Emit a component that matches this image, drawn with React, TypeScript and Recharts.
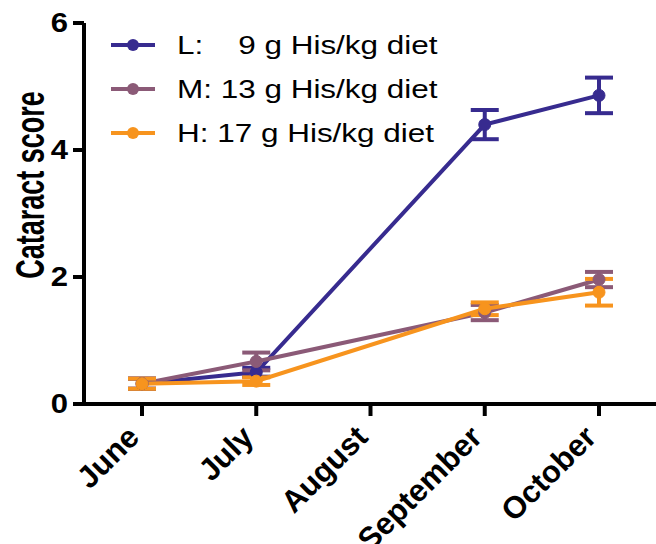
import { LineChart, Line, XAxis, YAxis, ErrorBar, Legend } from 'recharts'

// sampling months; August was not sampled
const months = ['June', 'July', 'August', 'September', 'October']

const lowMean = [0.32, 0.5, null, 4.4, 4.86]
const lowSem = [0.08, 0.07, null, 0.23, 0.28]
const midMean = [0.32, 0.67, null, 1.44, 1.96]
const midSem = [0.08, 0.14, null, 0.12, 0.12]
const highMean = [0.32, 0.36, null, 1.5, 1.76]
const highSem = [0.08, 0.06, null, 0.1, 0.21]

const yTicks = [0, 2, 4, 6]

const groups = [
  { key: 'low', label: 'L:    9 g His/kg diet', color: '#372b8f' },
  { key: 'mid', label: 'M: 13 g His/kg diet', color: '#8b5a77' },
  { key: 'high', label: 'H: 17 g His/kg diet', color: '#f7941e' },
]

const data = months.map((month, i) => ({
  month,
  low: lowMean[i],
  lowErr: lowSem[i],
  mid: midMean[i],
  midErr: midSem[i],
  high: highMean[i],
  highErr: highSem[i],
}))

const FONT = '"Liberation Sans", Arial, sans-serif'

function MonthTick({ x, y, payload }: any) {
  return (
    <g transform={`translate(${x - 1},${y + 21})`}>
      <text
        textAnchor="end"
        transform="rotate(-45)"
        fontFamily={FONT}
        fontWeight="bold"
        fontSize={31}
        fill="#000"
      >
        {payload.value}
      </text>
    </g>
  )
}

function ScoreTick({ x, y, payload }: any) {
  return (
    <g transform={`translate(${x - 3},${y + 9}) scale(1.15,1)`}>
      <text textAnchor="end" fontFamily={FONT} fontWeight="bold" fontSize={27} fill="#000">
        {payload.value}
      </text>
    </g>
  )
}

function ScoreTitle() {
  return (
    <g transform="translate(44,185) scale(1.5,1) rotate(-90)">
      <text textAnchor="middle" fontFamily={FONT} fontWeight="bold" fontSize={27} fill="#000">
        Cataract score
      </text>
    </g>
  )
}

function DietLegend() {
  return (
    <div style={{ fontFamily: FONT, fontSize: 26, color: '#000' }}>
      {groups.map((g) => (
        <div key={g.key} style={{ display: 'flex', alignItems: 'center', height: 44 }}>
          <svg width={44} height={16} style={{ flex: 'none' }}>
            <line x1={0} y1={8} x2={44} y2={8} stroke={g.color} strokeWidth={4} />
            <circle cx={22} cy={8} r={6} fill={g.color} />
          </svg>
          <span
            style={{
              marginLeft: 22,
              whiteSpace: 'pre',
              display: 'inline-block',
              transform: 'scaleX(1.21)',
              transformOrigin: 'left center',
            }}
          >
            {g.label}
          </span>
        </div>
      ))}
    </div>
  )
}

export default function App() {
  return (
    <div style={{ position: 'absolute', left: 0, top: 0, background: '#fff' }}>
      <LineChart width={656} height={544} data={data} margin={{ top: 23, right: 0, bottom: 0, left: 0 }}>
        <XAxis
          dataKey="month"
          height={140}
          padding={{ left: 58, right: 57 }}
          axisLine={{ stroke: '#000', strokeWidth: 4 }}
          tickLine={{ stroke: '#000', strokeWidth: 4 }}
          tickSize={12}
          tick={<MonthTick />}
          interval={0}
        />
        <YAxis
          width={84}
          domain={[0, 6]}
          ticks={yTicks}
          axisLine={{ stroke: '#000', strokeWidth: 4 }}
          tickLine={{ stroke: '#000', strokeWidth: 4 }}
          tickSize={11}
          tick={<ScoreTick />}
          label={<ScoreTitle />}
        />
        <Legend
          layout="vertical"
          align="center"
          verticalAlign="middle"
          wrapperStyle={{ left: 111, top: 23, width: 'auto' }}
          content={<DietLegend />}
        />
        {groups.map((g) => (
          <Line
            key={g.key}
            dataKey={g.key}
            stroke={g.color}
            strokeWidth={4}
            connectNulls
            dot={{ r: 6, fill: g.color, stroke: g.color, strokeWidth: 1 }}
            activeDot={false}
            isAnimationActive={false}
          >
            <ErrorBar dataKey={`${g.key}Err`} direction="y" width={14} strokeWidth={4} stroke={g.color} />
          </Line>
        ))}
      </LineChart>
    </div>
  )
}
